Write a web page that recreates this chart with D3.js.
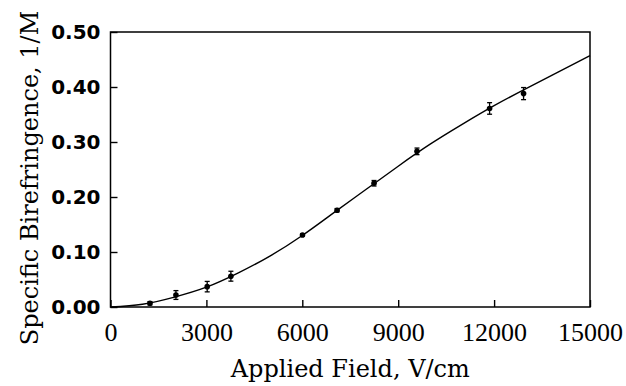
<!DOCTYPE html>
<html>
<head>
<meta charset="utf-8">
<script src="https://cdn.jsdelivr.net/npm/d3@7"></script>
<style>
  body { margin: 0; background: #fff; }
</style>
</head>
<body>
<svg id="chart" width="626" height="386"></svg>
<script>
// measured points
const field = [1234, 2047, 3025, 3766, 6006, 7088, 8244, 9588, 11859, 12922];
const biref = [0.0067, 0.0218, 0.037, 0.056, 0.131, 0.176, 0.225, 0.283, 0.361, 0.388];
const errBar = [0.003, 0.008, 0.0095, 0.009, 0.002, 0.003, 0.005, 0.006, 0.0105, 0.011];

// fitted curve
const curveField = [0, 1000, 2000, 3000, 4000, 5000, 6000, 7000, 8000, 9000, 10000, 11000, 12000, 13000, 14000, 15000];
const curveBiref = [0, 0.005, 0.018, 0.036, 0.062, 0.093, 0.130, 0.172, 0.214, 0.256, 0.296, 0.332, 0.366, 0.397, 0.427, 0.457];

const xTicks = [0, 3000, 6000, 9000, 12000, 15000];
const yTicks = [0, 0.1, 0.2, 0.3, 0.4, 0.5];

const margin = { left: 110.5, right: 36, top: 32, bottom: 79 };
const width = 626, height = 386;

const svg = d3.select('#chart');

const x = d3.scaleLinear().domain([0, 15000]).range([margin.left, width - margin.right]);
const y = d3.scaleLinear().domain([0, 0.5]).range([height - margin.bottom, margin.top]);

// x axis
const xAxis = svg.append('g')
  .attr('transform', `translate(0,${height - margin.bottom})`)
  .call(d3.axisBottom(x).tickValues(xTicks).tickFormat(d3.format('d'))
    .tickSizeInner(-7).tickSizeOuter(0).tickPadding(16));
xAxis.select('.domain').remove();
xAxis.selectAll('line').attr('stroke', '#000').attr('stroke-width', 1.4);
xAxis.selectAll('text')
  .attr('font-family', '"Liberation Serif", serif')
  .attr('font-size', 26)
  .attr('fill', '#000');

// y axis
const yAxis = svg.append('g')
  .attr('transform', `translate(${margin.left},0)`)
  .call(d3.axisLeft(y).tickValues(yTicks).tickFormat(d3.format('.2f'))
    .tickSizeInner(-7).tickSizeOuter(0).tickPadding(10));
yAxis.select('.domain').remove();
yAxis.selectAll('line').attr('stroke', '#000').attr('stroke-width', 1.4);
yAxis.selectAll('text')
  .attr('font-family', '"DejaVu Sans", sans-serif')
  .attr('font-weight', 'bold')
  .attr('font-size', 20)
  .attr('fill', '#000');

// frame
svg.append('rect')
  .attr('x', x(0))
  .attr('y', y(0.5))
  .attr('width', x(15000) - x(0))
  .attr('height', y(0) - y(0.5))
  .attr('fill', 'none')
  .attr('stroke', '#000')
  .attr('stroke-width', 1.5);

// curve
const line = d3.line()
  .x((d, i) => x(curveField[i]))
  .y((d, i) => y(curveBiref[i]))
  .curve(d3.curveNatural);

svg.append('path')
  .attr('d', line(curveField))
  .attr('fill', 'none')
  .attr('stroke', '#000')
  .attr('stroke-width', 1.4);

// error bars + markers
const pts = svg.append('g')
  .selectAll('g')
  .data(field.map((f, i) => ({ f, b: biref[i], e: errBar[i] })))
  .join('g');

pts.append('line')
  .attr('x1', d => x(d.f)).attr('x2', d => x(d.f))
  .attr('y1', d => y(d.b - d.e)).attr('y2', d => y(d.b + d.e))
  .attr('stroke', '#000').attr('stroke-width', 1.3);
pts.append('line')
  .attr('x1', d => x(d.f) - 2.5).attr('x2', d => x(d.f) + 2.5)
  .attr('y1', d => y(d.b + d.e)).attr('y2', d => y(d.b + d.e))
  .attr('stroke', '#000').attr('stroke-width', 1.3);
pts.append('line')
  .attr('x1', d => x(d.f) - 2.5).attr('x2', d => x(d.f) + 2.5)
  .attr('y1', d => y(d.b - d.e)).attr('y2', d => y(d.b - d.e))
  .attr('stroke', '#000').attr('stroke-width', 1.3);
pts.append('circle')
  .attr('cx', d => x(d.f))
  .attr('cy', d => y(d.b))
  .attr('r', 2.8)
  .attr('fill', '#000');

// axis titles
svg.append('text')
  .attr('x', (x(0) + x(15000)) / 2)
  .attr('y', 377)
  .attr('text-anchor', 'middle')
  .attr('font-family', '"DejaVu Serif", serif')
  .attr('font-size', 24)
  .attr('fill', '#000')
  .text('Applied Field, V/cm');

svg.append('text')
  .attr('transform', 'translate(38,178) rotate(-90)')
  .attr('text-anchor', 'middle')
  .attr('font-family', '"DejaVu Serif", serif')
  .attr('font-size', 24)
  .attr('fill', '#000')
  .text('Specific Birefringence, 1/M');
</script>
</body>
</html>
